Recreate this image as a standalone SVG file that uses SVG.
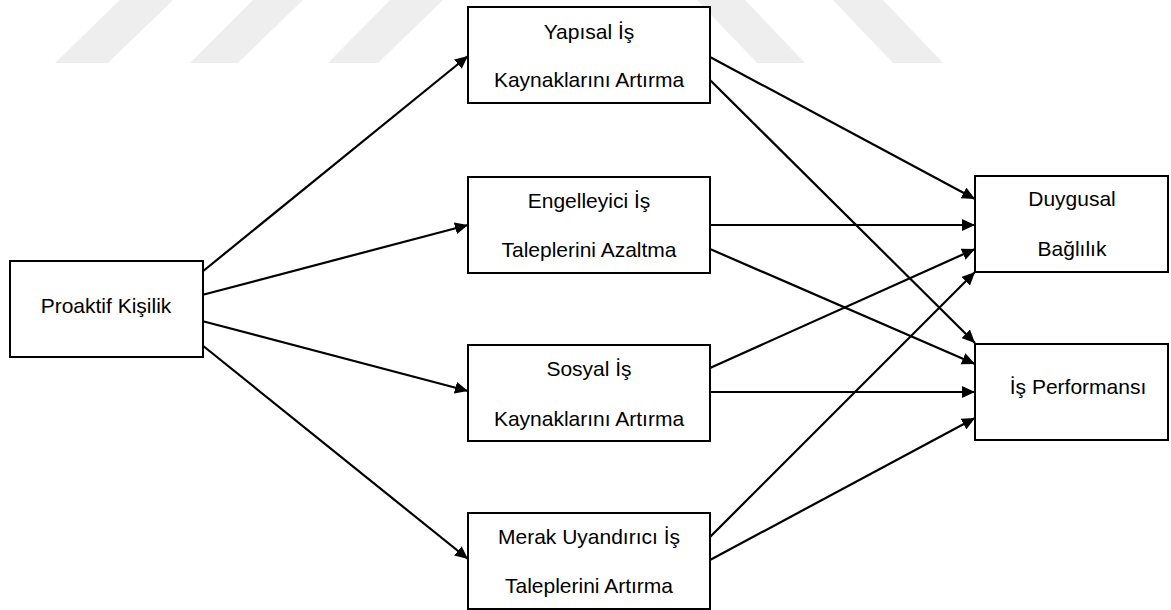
<svg xmlns="http://www.w3.org/2000/svg" width="1171" height="610" viewBox="0 0 1171 610">
  <defs>
    <marker id="arrow" markerUnits="userSpaceOnUse" markerWidth="14" markerHeight="12" refX="13" refY="6" orient="auto">
      <path d="M0,0 L13,6 L0,12 Z" fill="#000"/>
    </marker>
  </defs>
  <style>
    .box { fill: #fff; stroke: #000; stroke-width: 2; }
    .lbl { font-family: "Liberation Sans", Arial, sans-serif; font-size: 21px; fill: #000; text-anchor: middle; }
    .edge { stroke: #000; stroke-width: 2.2; fill: none; marker-end: url(#arrow); }
    .wm { fill: #eeeeee; }
  </style>

  <rect width="1171" height="610" fill="#fff"/>

  <!-- faint background stripes along the top edge -->
  <g id="background-stripes">
    <polygon class="wm" points="120,0 173,0 108,63 55,63"/>
    <polygon class="wm" points="253,0 303,0 238,63 190,63"/>
    <polygon class="wm" points="390,0 443,0 378,63 328,63"/>
    <polygon class="wm" points="697,0 745,0 805,63 757,63"/>
    <polygon class="wm" points="833,0 883,0 943,63 893,63"/>
  </g>

  <!-- connectors -->
  <g id="connectors">
    <line class="edge" x1="202" y1="272" x2="468" y2="56"/>
    <line class="edge" x1="202" y1="295" x2="468" y2="225"/>
    <line class="edge" x1="202" y1="321" x2="468" y2="391"/>
    <line class="edge" x1="202" y1="345" x2="468" y2="559"/>

    <line class="edge" x1="710" y1="57" x2="975" y2="199"/>
    <line class="edge" x1="710" y1="80" x2="975" y2="343"/>
    <line class="edge" x1="710" y1="225" x2="975" y2="225"/>
    <line class="edge" x1="710" y1="249" x2="975" y2="364"/>
    <line class="edge" x1="710" y1="368" x2="975" y2="249"/>
    <line class="edge" x1="710" y1="392" x2="975" y2="392"/>
    <line class="edge" x1="710" y1="537" x2="975" y2="272"/>
    <line class="edge" x1="710" y1="560" x2="975" y2="418"/>
  </g>

  <g id="proaktif">
    <rect class="box" x="10" y="261" width="193" height="96"/>
    <text class="lbl" x="106" y="313">Proaktif Kişilik</text>
  </g>

  <g id="yapisal">
    <rect class="box" x="468" y="7" width="242" height="96"/>
    <text class="lbl" x="589" y="39">Yapısal İş</text>
    <text class="lbl" x="589" y="87">Kaynaklarını Artırma</text>
  </g>

  <g id="engelleyici">
    <rect class="box" x="468" y="177" width="242" height="96"/>
    <text class="lbl" x="589" y="208">Engelleyici İş</text>
    <text class="lbl" x="589" y="257">Taleplerini Azaltma</text>
  </g>

  <g id="sosyal">
    <rect class="box" x="468" y="345" width="242" height="96"/>
    <text class="lbl" x="589" y="376">Sosyal İş</text>
    <text class="lbl" x="589" y="426">Kaynaklarını Artırma</text>
  </g>

  <g id="merak">
    <rect class="box" x="468" y="513" width="242" height="96"/>
    <text class="lbl" x="589" y="544">Merak Uyandırıcı İş</text>
    <text class="lbl" x="589" y="593">Taleplerini Artırma</text>
  </g>

  <g id="duygusal">
    <rect class="box" x="975" y="176" width="193" height="96"/>
    <text class="lbl" x="1072" y="206">Duygusal</text>
    <text class="lbl" x="1072" y="256">Bağlılık</text>
  </g>

  <g id="performans">
    <rect class="box" x="975" y="344" width="193" height="96"/>
    <text class="lbl" x="1078" y="394">İş Performansı</text>
  </g>
</svg>
